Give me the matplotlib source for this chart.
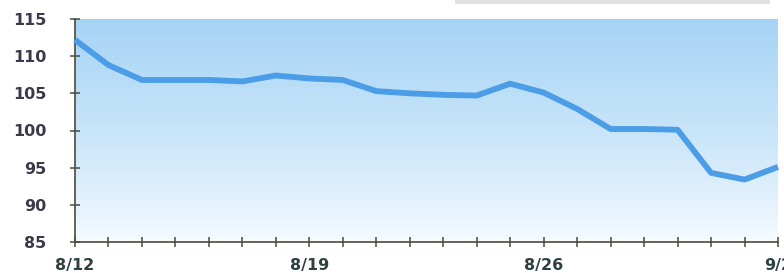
import matplotlib
matplotlib.use("Agg")
import matplotlib.pyplot as plt
import numpy as np
from matplotlib.patches import Rectangle

# daily values, 8/12 .. 9/2
days = list(range(22))
values = [112.2, 108.8, 106.8, 106.8, 106.8, 106.6, 107.4, 107.0, 106.8, 105.3,
          105.0, 104.8, 104.7, 106.3, 105.1, 102.9, 100.2, 100.2, 100.1, 94.3,
          93.4, 95.1]
tick_labels = {0: "8/12", 7: "8/19", 14: "8/26", 21: "9/2"}
yticks = [85, 90, 95, 100, 105, 110, 115]

fig = plt.figure(figsize=(7.84, 2.73), dpi=100)
ax = fig.add_axes([75 / 784, 31 / 273, 703 / 784, 223 / 273])

# background gradient: light blue at top fading to near white
grad = np.linspace(0, 1, 256).reshape(-1, 1)
top = np.array([0.65, 0.83, 0.96])
bot = np.array([0.97, 0.99, 1.0])
img = bot + (top - bot) * grad ** 0.8
ax.imshow(img[:, None, :].repeat(2, axis=1), extent=[0, 21, 85, 115],
          origin="lower", aspect="auto", zorder=0)

ax.plot(days, values, color="#4a9de6", lw=4.2, solid_joinstyle="round",
        solid_capstyle="butt", zorder=3, clip_on=False)

ax.set_xlim(0, 21)
ax.set_ylim(85, 115)
ax.set_xticks(days)
ax.set_xticklabels([tick_labels.get(d, "") for d in days])
ax.set_yticks(yticks)

for s in ["top", "right"]:
    ax.spines[s].set_visible(False)
for s in ["left", "bottom"]:
    ax.spines[s].set_color("#4a4a3c")
    ax.spines[s].set_linewidth(1.2)

ax.tick_params(axis="both", direction="inout", length=7, width=1.1, color="#4a4a3c")
ax.tick_params(axis="y", pad=17, labelsize=11.5, labelcolor="#3a3a4a")
ax.tick_params(axis="x", pad=8, labelsize=11.5, labelcolor="#2e4040")
for lab in ax.get_xticklabels() + ax.get_yticklabels():
    lab.set_fontweight("bold")

# partial grey box at the top edge
fig.patches.append(Rectangle((455 / 784, 1 - 4 / 273), 315 / 784, 4 / 273,
                             transform=fig.transFigure, color="#e2e2e2", lw=0))

fig.savefig("out.png", dpi=100, facecolor="white")
